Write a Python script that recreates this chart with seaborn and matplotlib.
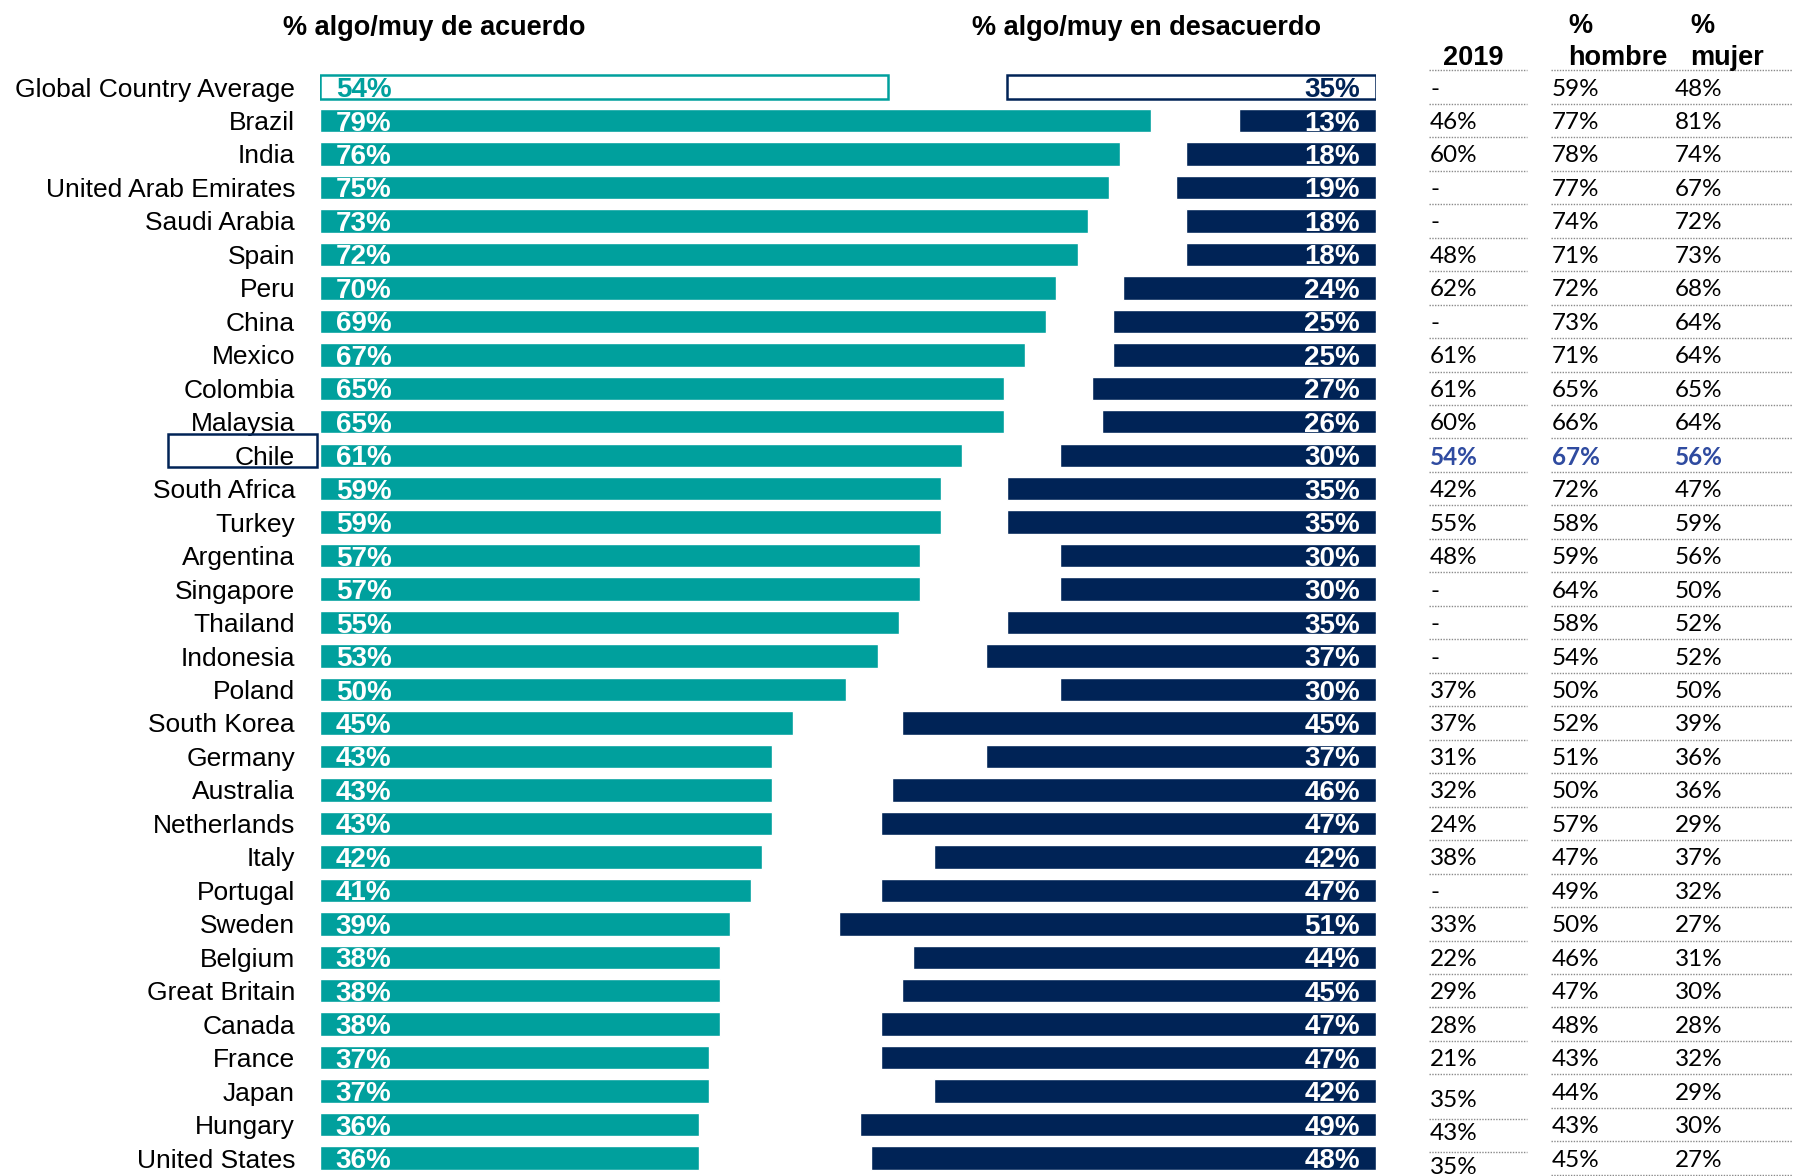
import numpy as np
import pandas as pd
import seaborn as sns
import matplotlib.pyplot as plt
import matplotlib.transforms as mtransforms
from matplotlib.patches import Rectangle
from matplotlib.lines import Line2D

countries = ['Global Country Average', 'Brazil', 'India', 'United Arab Emirates', 'Saudi Arabia',
             'Spain', 'Peru', 'China', 'Mexico', 'Colombia', 'Malaysia', 'Chile', 'South Africa',
             'Turkey', 'Argentina', 'Singapore', 'Thailand', 'Indonesia', 'Poland', 'South Korea',
             'Germany', 'Australia', 'Netherlands', 'Italy', 'Portugal', 'Sweden', 'Belgium',
             'Great Britain', 'Canada', 'France', 'Japan', 'Hungary', 'United States']
agree = [54, 79, 76, 75, 73, 72, 70, 69, 67, 65, 65, 61, 59, 59, 57, 57, 55, 53, 50, 45,
         43, 43, 43, 42, 41, 39, 38, 38, 38, 37, 37, 36, 36]
disagree = [35, 13, 18, 19, 18, 18, 24, 25, 25, 27, 26, 30, 35, 35, 30, 30, 35, 37, 30, 45,
            37, 46, 47, 42, 47, 51, 44, 45, 47, 47, 42, 49, 48]
y2019 = ['-', '46%', '60%', '-', '-', '48%', '62%', '-', '61%', '61%', '60%', '54%', '42%',
         '55%', '48%', '-', '-', '-', '37%', '37%', '31%', '32%', '24%', '38%', '-', '33%',
         '22%', '29%', '28%', '21%', '35%', '43%', '35%']
male = [59, 77, 78, 77, 74, 71, 72, 73, 71, 65, 66, 67, 72, 58, 59, 64, 58, 54, 50, 52,
        51, 50, 57, 47, 49, 50, 46, 47, 48, 43, 44, 43, 45]
female = [48, 81, 74, 67, 72, 73, 68, 64, 64, 65, 64, 56, 47, 59, 56, 50, 52, 52, 50, 39,
          36, 36, 29, 37, 32, 27, 31, 30, 28, 32, 29, 30, 27]

TEAL = '#00A09D'
NAVY = '#002356'
CHILE_BLUE = '#2F4BA0'
HIGHLIGHT = 'Chile'

sns.set_theme(style='white')
plt.rcParams['font.family'] = ['Liberation Sans', 'DejaVu Sans']
plt.rcParams['text.color'] = 'black'
BOLD = ['Liberation Sans Narrow', 'Liberation Sans', 'DejaVu Sans']
TABLE = ['Lato', 'DejaVu Sans']

df = pd.DataFrame({'country': countries, 'agree': agree, 'disagree': disagree})
n = len(countries)

fig = plt.figure(figsize=(17.93, 11.76), dpi=100)
ax1 = fig.add_axes([0.1785, 0.001, 0.4694, 0.9392])
ax2 = fig.add_axes([0.2978, 0.001, 0.4694, 0.9392])

sns.barplot(data=df, x='agree', y='country', color=TEAL, width=0.7, saturation=1,
            errorbar=None, ax=ax1)
sns.barplot(data=df, x='disagree', y='country', color=NAVY, width=0.7, saturation=1,
            errorbar=None, ax=ax2)

for ax, lim in [(ax1, (0, 80)), (ax2, (80, 0))]:
    ax.set_xlim(*lim)
    ax.set_ylim(n - 0.5, -0.5)
    ax.set_xticks([])
    ax.set_xlabel('')
    ax.set_ylabel('')
    ax.set_facecolor('none')
    sns.despine(ax=ax, left=True, bottom=True)

ax2.set_yticks([])
ax1.tick_params(axis='y', length=0, pad=18, labelsize=19, labelcolor='black')

# global average drawn as outlined bars
ax1.patches[0].set_facecolor('white')
ax1.patches[0].set_edgecolor(TEAL)
ax1.patches[0].set_linewidth(1.8)
ax2.patches[0].set_facecolor('white')
ax2.patches[0].set_edgecolor(NAVY)
ax2.patches[0].set_linewidth(1.8)

for i, (a, d) in enumerate(zip(agree, disagree)):
    ax1.text(1.5, i, f'{a}%', ha='left', va='center_baseline', fontsize=20, fontweight='bold',
             family=BOLD, color=TEAL if i == 0 else 'white')
    ax2.text(1.5, i, f'{d}%', ha='right', va='center_baseline', fontsize=20, fontweight='bold',
             family=BOLD, color=NAVY if i == 0 else 'white')

# box around highlighted country
ci = countries.index(HIGHLIGHT)
ax1.add_patch(Rectangle((-0.1806, ci - 0.63), 0.177, 0.98, transform=ax1.get_yaxis_transform(),
                        fill=False, edgecolor=NAVY, lw=1.8, clip_on=False))

trans = mtransforms.blended_transform_factory(fig.transFigure, ax1.transData)

hdr = dict(transform=trans, va='center_baseline', fontsize=19.5, fontweight='bold',
           family=BOLD, color='black')
fig.text(0.2423, -1.85, '% algo/muy de acuerdo', ha='center', **hdr)
fig.text(0.6393, -1.85, '% algo/muy en desacuerdo', ha='center', **hdr)
fig.text(0.8215, -0.956, '2019', ha='center', **hdr)
for x, word in [(0.8745, 'hombre'), (0.9425, 'mujer')]:
    fig.text(x, -1.91, '%', ha='left', **hdr)
    fig.text(x, -0.956, word, ha='left', **hdr)

# table columns
for i in range(n):
    hl = countries[i] == HIGHLIGHT
    kw = dict(transform=trans, ha='left', va='center_baseline', fontsize=17.5, family=TABLE,
              color=CHILE_BLUE if hl else 'black', fontweight='bold' if hl else 'normal')
    shift = 0.22 if i >= n - 3 else 0
    fig.text(0.7976, i + shift, y2019[i], **kw)
    fig.text(0.8656, i, f'{male[i]}%', **kw)
    fig.text(0.9342, i, f'{female[i]}%', **kw)

dot = dict(transform=trans, color='#8a8a8a', lw=1.0, linestyle=(0, (1, 1)))
for i in range(-1, n):
    y = i + 0.5
    fig.add_artist(Line2D([0.865, 1.0], [y, y], **dot))
    y19 = y + (0.33 if i >= n - 3 else 0)
    if i < n - 1:
        fig.add_artist(Line2D([0.797, 0.8517], [y19, y19], **dot))

fig.savefig('out.png', dpi=100)
